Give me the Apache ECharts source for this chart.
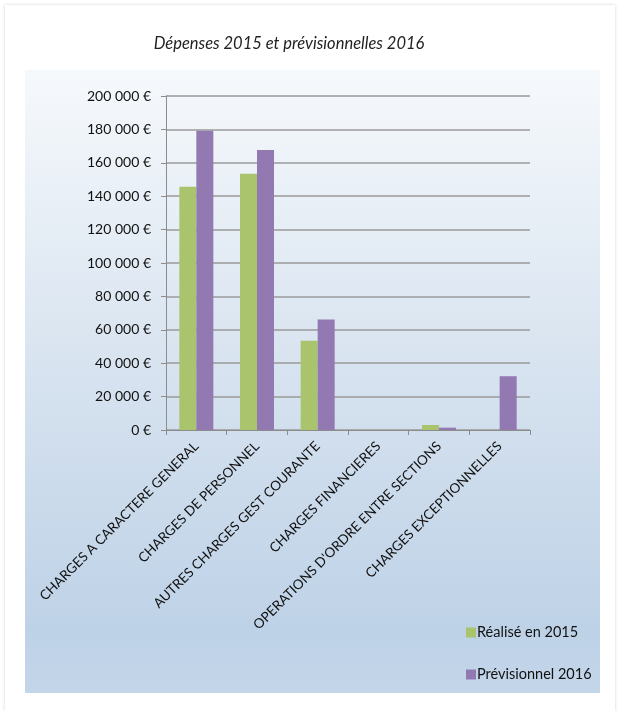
<!DOCTYPE html>
<html><head><meta charset="utf-8">
<script src="https://cdn.jsdelivr.net/npm/echarts@6/dist/echarts.min.js"></script>
<style>
html,body{margin:0;padding:0;background:#fff;}
#frame{position:absolute;left:5px;top:5px;width:610px;height:706px;box-shadow:0 0 3px rgba(0,0,0,0.18);background:#fff;}
#c{position:absolute;left:0;top:0;width:621px;height:711px;}
</style></head>
<body>
<div id="frame"></div>
<div id="c"></div>
<script>
const categories = ["CHARGES A CARACTERE GENERAL","CHARGES DE PERSONNEL","AUTRES CHARGES GEST COURANTE","CHARGES FINANCIERES","OPERATIONS D'ORDRE ENTRE SECTIONS","CHARGES EXCEPTIONNELLES"];
const realise2015 = [145600, 153400, 53400, 0, 3000, 0];
const previsionnel2016 = [179200, 167600, 66200, 0, 1400, 32200];
const seriesNames = ["Réalisé en 2015","Prévisionnel 2016"];
const titleText = "Dépenses 2015 et prévisionnelles 2016";

const chart = echarts.init(document.getElementById('c'), null, {renderer:'canvas'});
const fontFam = 'Lato, "Open Sans", sans-serif';
chart.setOption({
  animation:false,
  title:{text:titleText,left:284,textAlign:'center',top:30,
    textStyle:{fontFamily:fontFam,fontStyle:'italic',fontWeight:'normal',fontSize:16.5,color:'#222'}},
  graphic:[{type:'rect',z:-10,silent:true,shape:{x:25,y:70,width:575,height:623},
    style:{fill:new echarts.graphic.LinearGradient(0,0,0,1,[
      {offset:0,color:'#f6f9fc'},{offset:0.5,color:'#d6e2ef'},{offset:0.9,color:'#bed2e7'},{offset:1,color:'#c3d5e9'}])}}],
  legend:{orient:'vertical',left:461,top:620,itemGap:27,itemWidth:10,itemHeight:10,icon:'rect',
    textStyle:{fontFamily:fontFam,fontSize:14.5,color:'#111',padding:[0,0,0,-4]},
    data:seriesNames},
  grid:{left:166,right:91,top:96,bottom:281,containLabel:false},
  xAxis:{type:'category',data:categories,
    axisLine:{lineStyle:{color:'#8c8c8c',width:1}},
    axisTick:{show:true,length:5,lineStyle:{color:'#8c8c8c'}},
    axisLabel:{rotate:45,interval:0,margin:14,fontFamily:fontFam,fontSize:13.5,color:'#111'}},
  yAxis:{type:'value',min:0,max:200000,interval:20000,
    axisLine:{show:true,lineStyle:{color:'#8c8c8c'}},
    axisTick:{show:true,length:5,lineStyle:{color:'#8c8c8c'}},
    splitLine:{lineStyle:{color:'#9a9a9a',width:1.5}},
    axisLabel:{margin:15,fontFamily:fontFam,fontSize:14,color:'#111',
      formatter:v=>v.toString().replace(/\B(?=(\d{3})+(?!\d))/g,'\u00a0')+'\u00a0€'}},
  series:[
    {name:seriesNames[0],type:'bar',data:realise2015,barWidth:17,barGap:'0%',itemStyle:{color:'#a9c46c'}},
    {name:seriesNames[1],type:'bar',data:previsionnel2016,barWidth:17,barGap:'0%',itemStyle:{color:'#9279b1'}}
  ]
});
</script>
</body></html>
